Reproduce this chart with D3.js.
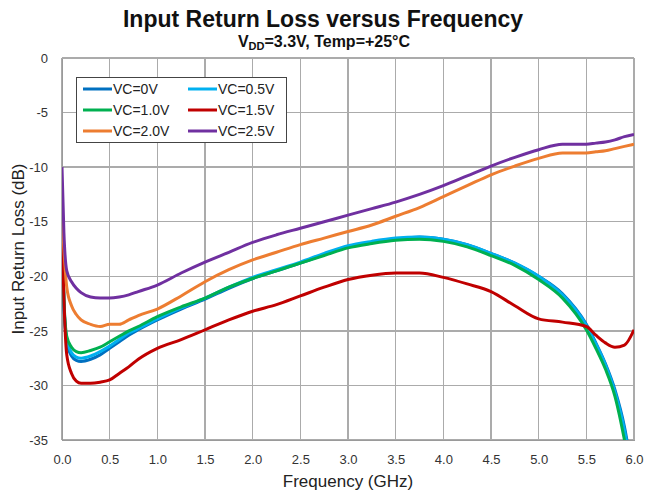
<!DOCTYPE html>
<meta charset="utf-8">
<style>
body { margin: 0; background: #fff; }
svg { font-family: "Liberation Sans", Arial, sans-serif; }
.grid line { stroke: #ababab; stroke-width: 1.5; shape-rendering: crispEdges; }
.axis path, .axis line { stroke: #9a9a9a; stroke-width: 1.5; shape-rendering: crispEdges; }
.axis text { font-size: 13px; fill: #333; }
</style>
<div id="chart"></div>
<script src="https://d3js.org/d3.v7.min.js"></script>
<script>

// frequency points (GHz)
const freq = [0, 0.02, 0.05, 0.1, 0.15, 0.2, 0.3, 0.4, 0.5, 0.6, 0.7, 0.8, 1.0, 1.25, 1.5, 1.75,
  2.0, 2.25, 2.5, 2.75, 3.0, 3.25, 3.5, 3.75, 4.0, 4.25, 4.5, 4.75, 5.0, 5.25, 5.5, 5.6, 5.7, 5.8, 5.9, 6.0];

// return loss (dB) per control voltage
const vc0 = [-15.5, -22.5, -26.0, -27.3, -27.7, -27.8, -27.6, -27.2, -26.6, -26.0, -25.4, -24.9, -24.0, -23.0, -22.1, -21.1,
  -20.2, -19.5, -18.8, -18.0, -17.3, -16.9, -16.6, -16.4, -16.6, -17.1, -17.9, -18.8, -20.0, -21.6, -24.4, -26.1, -28.0, -30.4, -33.8, -39.0];
const vc05 = [-15.5, -22.3, -25.8, -27.0, -27.4, -27.5, -27.3, -26.9, -26.4, -25.8, -25.2, -24.8, -23.9, -22.9, -22.0, -21.0,
  -20.1, -19.4, -18.7, -17.9, -17.2, -16.8, -16.5, -16.4, -16.6, -17.1, -17.9, -18.8, -20.0, -21.7, -24.5, -26.2, -28.1, -30.6, -34.1, -39.5];
const vc10 = [-15.5, -22.0, -25.5, -26.5, -26.9, -27.0, -26.8, -26.5, -26.0, -25.5, -25.0, -24.6, -23.7, -22.8, -22.0, -21.0,
  -20.2, -19.5, -18.8, -18.1, -17.4, -17.0, -16.7, -16.6, -16.8, -17.3, -18.1, -19.0, -20.3, -22.0, -24.9, -26.6, -28.5, -31.0, -35.0, -40.0];
const vc15 = [-15.5, -22.0, -27.2, -28.9, -29.6, -29.8, -29.8, -29.7, -29.5, -28.9, -28.3, -27.6, -26.6, -25.8, -24.9, -24.0,
  -23.2, -22.6, -21.8, -21.0, -20.3, -19.9, -19.7, -19.7, -20.1, -20.7, -21.4, -22.7, -23.9, -24.2, -24.6, -25.4, -26.1, -26.5, -26.3, -24.9];
const vc20 = [-14.6, -17.5, -21.0, -22.7, -23.5, -24.0, -24.4, -24.6, -24.4, -24.4, -24.0, -23.6, -23.0, -21.8, -20.5, -19.4,
  -18.5, -17.8, -17.1, -16.5, -15.9, -15.3, -14.5, -13.7, -12.7, -11.7, -10.7, -9.9, -9.2, -8.7, -8.7, -8.6, -8.5, -8.3, -8.1, -7.9];
const vc25 = [-10.0, -16.0, -19.5, -20.5, -21.1, -21.5, -21.9, -22.0, -22.0, -21.9, -21.7, -21.4, -20.8, -19.7, -18.7, -17.8,
  -16.9, -16.2, -15.6, -15.0, -14.4, -13.8, -13.2, -12.5, -11.7, -10.8, -9.9, -9.1, -8.4, -7.9, -7.9, -7.8, -7.7, -7.5, -7.2, -7.0];

const seriesNames = ["VC=0V", "VC=0.5V", "VC=1.0V", "VC=1.5V", "VC=2.0V", "VC=2.5V"];
const seriesValues = [vc0, vc05, vc10, vc15, vc20, vc25];
const seriesColors = ["#0070C0", "#00B0F0", "#00B050", "#C00000", "#ED7D31", "#7030A0"];

const xTicks = [0, 0.5, 1, 1.5, 2, 2.5, 3, 3.5, 4, 4.5, 5, 5.5, 6];
const yTicks = [0, -5, -10, -15, -20, -25, -30, -35];

const W = 645, H = 492;
const margin = {top: 58, right: 11, bottom: 52, left: 62};
const width = W - margin.left - margin.right,
      height = H - margin.top - margin.bottom;

const svg = d3.select("#chart").append("svg")
  .attr("width", W).attr("height", H);

// titles
svg.append("text")
  .attr("x", 323).attr("y", 27)
  .attr("text-anchor", "middle")
  .style("font-size", "23px").style("font-weight", "bold").style("fill", "#111")
  .text("Input Return Loss versus Frequency");

const sub = svg.append("text")
  .attr("x", 324).attr("y", 47)
  .attr("text-anchor", "middle")
  .style("font-size", "16px").style("font-weight", "bold").style("fill", "#111");
sub.append("tspan").text("V");
sub.append("tspan").attr("dy", 3).style("font-size", "11px").text("DD");
sub.append("tspan").attr("dy", -3).text("=3.3V, Temp=+25°C");

const g = svg.append("g")
  .attr("transform", "translate(" + margin.left + "," + margin.top + ")");

const x = d3.scaleLinear().domain([0, 6]).range([0, width]);
const y = d3.scaleLinear().domain([-35, 0]).range([height, 0]);

// grid
g.append("g").attr("class", "grid")
  .selectAll("line").data(xTicks).enter().append("line")
    .attr("x1", d => x(d)).attr("x2", d => x(d))
    .attr("y1", 0).attr("y2", height);
g.append("g").attr("class", "grid")
  .selectAll("line").data(yTicks).enter().append("line")
    .attr("x1", 0).attr("x2", width)
    .attr("y1", d => y(d)).attr("y2", d => y(d));

// axes
g.append("g").attr("class", "axis")
  .attr("transform", "translate(0," + height + ")")
  .call(d3.axisBottom(x).tickValues(xTicks).tickFormat(d3.format(".1f")).tickSize(0).tickPadding(15));
g.append("g").attr("class", "axis")
  .call(d3.axisLeft(y).tickValues(yTicks).tickFormat(d => d === 0 ? "0" : d).tickSize(0).tickPadding(14));

// axis titles
svg.append("text")
  .attr("x", margin.left + width / 2).attr("y", 487)
  .attr("text-anchor", "middle")
  .style("font-size", "17px").style("fill", "#222")
  .text("Frequency (GHz)");
svg.append("text")
  .attr("transform", "translate(24," + (margin.top + height / 2) + ") rotate(-90)")
  .attr("text-anchor", "middle")
  .style("font-size", "17px").style("fill", "#222")
  .text("Input Return Loss (dB)");

// clip to plot area
g.append("clipPath").attr("id", "clip")
  .append("rect").attr("x", 0).attr("y", 0).attr("width", width).attr("height", height);

const line = d3.line()
  .x((d, i) => x(freq[i]))
  .y(d => y(d))
  .curve(d3.curveMonotoneX);

g.append("g").attr("clip-path", "url(#clip)")
  .selectAll("path").data(seriesValues).enter().append("path")
    .attr("d", d => line(d))
    .attr("fill", "none")
    .attr("stroke", (d, i) => seriesColors[i])
    .attr("stroke-width", 3)
    .attr("stroke-linejoin", "round");

// legend
const legend = svg.append("g");
legend.append("rect")
  .attr("x", 76.5).attr("y", 77.5).attr("width", 210).attr("height", 65)
  .attr("fill", "#fff").attr("stroke", "#444").attr("stroke-width", 1);

seriesNames.forEach((name, i) => {
  const col = i % 2, row = Math.floor(i / 2);
  const lx = 83 + col * 105, ly = 89 + row * 21;
  legend.append("line")
    .attr("x1", lx).attr("x2", lx + 29).attr("y1", ly).attr("y2", ly)
    .attr("stroke", seriesColors[i]).attr("stroke-width", 3);
  legend.append("text")
    .attr("x", lx + 30).attr("y", ly + 5)
    .style("font-size", "14px").style("fill", "#222")
    .text(name);
});

</script>
